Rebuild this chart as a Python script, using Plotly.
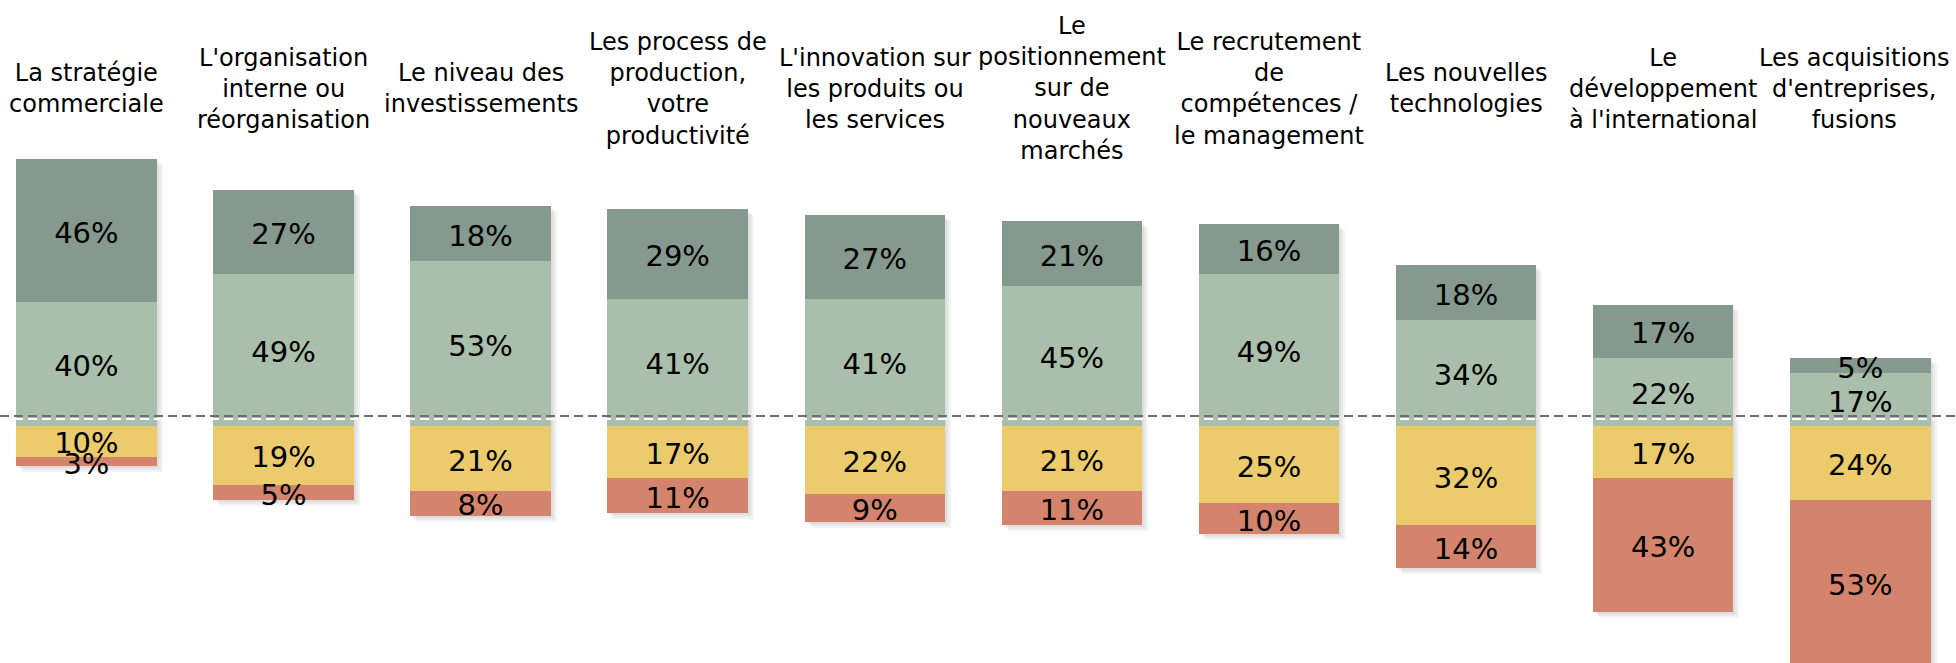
import plotly.graph_objects as go

categories = [
    "La stratégie<br>commerciale",
    "L'organisation<br>interne ou<br>réorganisation",
    "Le niveau des<br>investissements",
    "Les process de<br>production,<br>votre<br>productivité",
    "L'innovation sur<br>les produits ou<br>les services",
    "Le<br>positionnement<br>sur de<br>nouveaux<br>marchés",
    "Le recrutement<br>de<br>compétences /<br>le management",
    "Les nouvelles<br>technologies",
    "Le<br>développement<br>à l'international",
    "Les acquisitions<br>d'entreprises,<br>fusions",
]
very_positive = [46, 27, 18, 29, 27, 21, 16, 18, 17, 5]
positive = [40, 49, 53, 41, 41, 45, 49, 34, 22, 17]
negative = [10, 19, 21, 17, 22, 21, 25, 32, 17, 24]
very_negative = [3, 5, 8, 11, 9, 11, 10, 14, 43, 53]

C_DARK = "#85998E"
C_LIGHT = "#A9BFAB"
C_YELLOW = "#EBCB6C"
C_RED = "#D4836D"
FONT = "DejaVu Sans"

PX_PER_X = 197.1   # pixels per category step
PX_PER_Y = 3.1     # pixels per percentage point
TEXT_DROP = 5 / PX_PER_Y  # value labels sit slightly below segment centre

x = list(range(len(categories)))
W = 0.713

fig = go.Figure()

# soft drop shadow (several faint offset layers)
tops = [p + vp for p, vp in zip(positive, very_positive)]
bottoms = [-(n + vn) for n, vn in zip(negative, very_negative)]
heights = [t - b for t, b in zip(tops, bottoms)]
for k in (2, 4, 6):
    fig.add_trace(go.Bar(
        x=x, y=heights, base=[b - k / PX_PER_Y for b in bottoms],
        width=W, offset=-W / 2 + k / PX_PER_X,
        marker=dict(color="rgba(0,0,0,0.045)", line_width=0),
        hoverinfo="skip", showlegend=False))

fig.add_trace(go.Bar(x=x, y=positive, base=[0] * len(x), width=W,
                     marker=dict(color=C_LIGHT, line_width=0), name="Positive"))
fig.add_trace(go.Bar(x=x, y=very_positive, base=positive, width=W,
                     marker=dict(color=C_DARK, line_width=0), name="Very positive"))
fig.add_trace(go.Bar(x=x, y=[-v for v in negative], base=[0] * len(x), width=W,
                     marker=dict(color=C_YELLOW, line_width=0), name="Negative"))
fig.add_trace(go.Bar(x=x, y=[-v for v in very_negative], base=[-v for v in negative], width=W,
                     marker=dict(color=C_RED, line_width=0), name="Very negative"))

# value labels at segment centres
lx, ly, lt = [], [], []
for i in x:
    p, vp, n, vn = positive[i], very_positive[i], negative[i], very_negative[i]
    for yy, v in ((p / 2, p), (p + vp / 2, vp), (-n / 2, n), (-n - vn / 2, vn)):
        lx.append(i)
        ly.append(yy - TEXT_DROP)
        lt.append(f"{v}%")
fig.add_trace(go.Scatter(x=lx, y=ly, text=lt, mode="text", textposition="middle center",
                         textfont=dict(family=FONT, size=29, color="#000000"),
                         hoverinfo="skip"))

for i, c in enumerate(categories):
    fig.add_annotation(x=i, y=108.7, xref="x", yref="y", text=c, showarrow=False,
                       xanchor="center", yanchor="middle",
                       xshift=-6 if i == len(categories) - 1 else 0,
                       font=dict(family=FONT, size=24, color="#000000"))

fig.add_shape(type="line", xref="paper", yref="y", x0=0, x1=1, y0=2.2, y1=2.2,
              line=dict(color="#FFFFFF", width=2, dash="9px,5px"), layer="above")
fig.add_shape(type="line", xref="paper", yref="y", x0=0, x1=1, y0=3.1, y1=3.1,
              line=dict(color="#6E6E6E", width=2, dash="9px,5px"), layer="above")

fig.update_layout(
    width=1956, height=663,
    margin=dict(l=0, r=0, t=0, b=0),
    barmode="overlay",
    bargap=0,
    showlegend=False,
    hovermode=False,
    plot_bgcolor="#FFFFFF",
    paper_bgcolor="#FFFFFF",
    xaxis=dict(range=[-86.4 / PX_PER_X, (1956 - 86.4) / PX_PER_X], visible=False),
    yaxis=dict(range=[-(663 - 425.7) / PX_PER_Y, 425.7 / PX_PER_Y], visible=False),
)

fig.write_html("out.html", config={"displayModeBar": False},
               post_script="document.body.style.margin='0';")
